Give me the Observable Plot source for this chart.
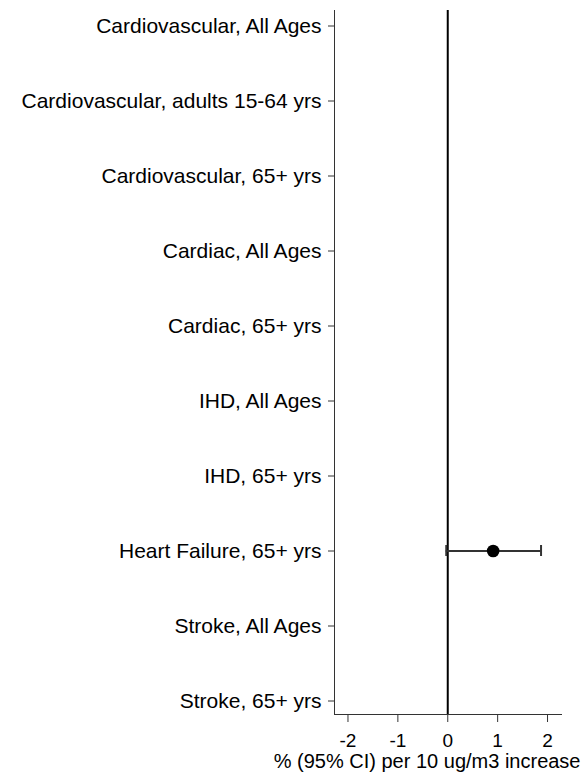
<!DOCTYPE html>
<html>
<head>
<meta charset="utf-8">
<script src="https://cdn.jsdelivr.net/npm/d3@7"></script>
<script src="https://cdn.jsdelivr.net/npm/@observablehq/plot@0.6"></script>
<style>
  html, body { margin: 0; padding: 0; background: #fff; }
  svg { font-family: "Liberation Sans", Arial, sans-serif; }
</style>
</head>
<body>
<div id="chart"></div>
<script>
const categories = [
  "Cardiovascular, All Ages",
  "Cardiovascular, adults 15-64 yrs",
  "Cardiovascular, 65+ yrs",
  "Cardiac, All Ages",
  "Cardiac, 65+ yrs",
  "IHD, All Ages",
  "IHD, 65+ yrs",
  "Heart Failure, 65+ yrs",
  "Stroke, All Ages",
  "Stroke, 65+ yrs"
];
const estOutcome = ["Heart Failure, 65+ yrs"];
const estimate = [0.91];
const ciLow = [-0.03];
const ciHigh = [1.87];
const xTicks = [-2, -1, 0, 1, 2];
const xLabel = "% (95% CI) per 10 ug/m3 increase";

const data = estOutcome.map((c, i) => ({cat: c, est: estimate[i], lo: ciLow[i], hi: ciHigh[i]}));

const chart = Plot.plot({
  width: 583,
  height: 773,
  marginLeft: 334,
  marginRight: 22,
  marginTop: 10,
  marginBottom: 59,
  style: {fontFamily: '"Liberation Sans", Arial, sans-serif', fontSize: "20px", color: "#000", background: "#fff"},
  x: {domain: [-2.27, 2.28]},
  y: {type: "band", domain: categories, range: [-12.5, 737.5], padding: 0},
  marks: [
    Plot.frame({anchor: "left", stroke: "#333", strokeWidth: 1}),
    Plot.frame({anchor: "bottom", stroke: "#333", strokeWidth: 1}),
    Plot.axisY({tickSize: 6, tickPadding: 7, label: null, fontSize: 21, stroke: "#333"}),
    Plot.axisX({ticks: xTicks, tickFormat: d => d < 0 ? "-" + Math.abs(d) : String(d), tickSize: 8, tickPadding: 11, label: null, fontSize: 19, stroke: "#333"}),
    Plot.ruleX([0], {stroke: "#000", strokeWidth: 2}),
    Plot.ruleY(data, {y: "cat", x1: "lo", x2: "hi", stroke: "#333", strokeWidth: 2}),
    Plot.tickX(data, {x: "lo", y: "cat", stroke: "#333", strokeWidth: 2, insetTop: 32, insetBottom: 32}),
    Plot.tickX(data, {x: "hi", y: "cat", stroke: "#333", strokeWidth: 2, insetTop: 32, insetBottom: 32}),
    Plot.dot(data, {x: "est", y: "cat", r: 6.3, fill: "#000", stroke: "none"}),
    Plot.text([xLabel], {frameAnchor: "bottom-right", textAnchor: "end", lineAnchor: "middle", dx: 19, dy: 47, fontSize: 20, fill: "#000"})
  ]
});
document.getElementById("chart").appendChild(chart);
</script>
</body>
</html>
